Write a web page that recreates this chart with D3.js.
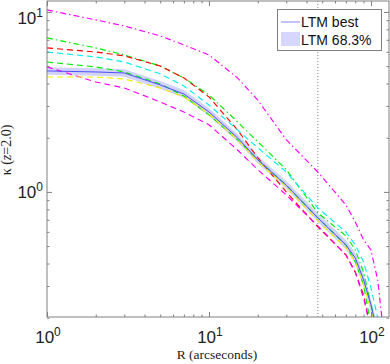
<!DOCTYPE html>
<html>
<head>
<meta charset="utf-8">
<script src="https://cdn.jsdelivr.net/npm/d3@7"></script>
<style>
  body { margin: 0; background: #fff; }
  svg { display: block; }
</style>
</head>
<body>
<svg id="chart"></svg>
<script>
// radius grid (arcseconds) shared by all profiles
const radius = [1, 2, 3, 5, 7, 10, 15, 20, 30, 47, 70, 80, 90, 100, 110, 120];

// kappa profiles (null = curve already gone)
const magentaDashDot = [10.26, 9.03, 8.36, 7.36, 6.56, 5.77, 4.30, 3.24, 1.95, 1.29, 0.847, 0.681, 0.541, 0.476, 0.325, 0.161];
const greenDashDot   = [7.17, 6.31, 5.77, 5.01, 4.30, 3.46, 2.45, 1.90, 1.33, 0.764, 0.570, 0.476, 0.359, 0.236, 0.171, null];
const redDashed      = [6.31, 5.99, 5.70, 5.01, 4.30, 3.37, 2.21, 1.55, 1.00, 0.639, 0.447, 0.359, 0.268, 0.171, null, null];
const cyanDashed     = [5.99, 5.62, 5.27, 4.53, 3.88, 3.04, 2.21, 1.76, 1.29, 0.815, 0.599, 0.508, 0.409, 0.293, 0.200, 0.150];
const greenDashed    = [5.27, 4.95, 4.64, 3.98, 3.41, 2.68, 1.95, 1.51, 1.09, 0.717, 0.508, 0.409, 0.304, 0.182, null, null];
const magentaDashed  = [4.95, 4.08, 3.78, 3.16, 2.78, 2.36, 1.71, 1.33, 0.962, 0.647, 0.447, 0.359, 0.258, 0.171, null, null];
const yellowDashed   = [4.35, 4.35, 4.24, 3.78, 3.37, 2.71, 1.95, 1.47, 1.066, 0.690, 0.489, 0.409, 0.304, 0.221, 0.161, null];
const ltmBest        = [4.70, 4.64, 4.58, 3.93, 3.50, 2.78, 2.00, 1.51, 1.09, 0.717, 0.508, 0.430, 0.325, 0.236, 0.161, null];
const ltmHi          = [4.93, 4.87, 4.81, 4.13, 3.68, 2.92, 2.10, 1.59, 1.15, 0.76, 0.54, 0.46, 0.35, 0.255, 0.18, null];
const ltmLo          = [4.48, 4.42, 4.36, 3.74, 3.33, 2.65, 1.90, 1.44, 1.04, 0.68, 0.48, 0.40, 0.30, 0.215, 0.14, null];

const markerRadius = 47;   // dotted vertical line
const legendLabels = ["LTM best", "LTM 68.3%"];

const width = 390, height = 364;
const margin = {top: 1, right: 1, bottom: 46, left: 47};

const svg = d3.select("#chart").attr("width", width).attr("height", height);

const x = d3.scaleLog().domain([1, 130]).range([margin.left, 389.4]);
const y = d3.scaleLog().domain([0.2, 11.5]).range([317.7, margin.top]);

const plotL = margin.left, plotR = 389, plotT = 1, plotB = 317;

svg.append("clipPath").attr("id", "clip")
  .append("rect").attr("x", plotL).attr("y", plotT)
  .attr("width", plotR - plotL).attr("height", plotB - plotT);

const plot = svg.append("g").attr("clip-path", "url(#clip)");

// dotted vertical line
plot.append("line")
  .attr("x1", x(markerRadius)).attr("x2", x(markerRadius))
  .attr("y1", plotT).attr("y2", plotB)
  .attr("stroke", "#666").attr("stroke-width", 0.8)
  .attr("stroke-dasharray", "1,2");

// 68.3% band
const idx = d3.range(radius.length);
plot.append("path")
  .datum(idx.filter(i => ltmHi[i] != null))
  .attr("fill", "#d2d2ff")
  .attr("d", d3.area()
    .x(i => x(radius[i]))
    .y0(i => y(ltmLo[i]))
    .y1(i => y(ltmHi[i])));

const series = [
  {values: magentaDashDot, color: "#ff00ff", dash: "6,3,1.5,3"},
  {values: greenDashDot,   color: "#00ee00", dash: "6,3,1.5,3"},
  {values: redDashed,      color: "#ff0000", dash: "6,4"},
  {values: cyanDashed,     color: "#00eeee", dash: "6,4"},
  {values: greenDashed,    color: "#00ee00", dash: "6,4"},
  {values: magentaDashed,  color: "#ff00ff", dash: "6,4"},
  {values: yellowDashed,   color: "#eeee00", dash: "6,4"},
  {values: ltmBest,        color: "#5050ff", dash: null}
];

const line = vals => d3.line()
  .defined(i => vals[i] != null)
  .x(i => x(radius[i]))
  .y(i => y(vals[i]));

series.forEach(s => {
  plot.append("path")
    .datum(idx)
    .attr("fill", "none")
    .attr("stroke", s.color)
    .attr("stroke-width", s.dash ? 1.15 : 1)
    .attr("stroke-dasharray", s.dash)
    .attr("d", line(s.values));
});

// axes: ticks pointing inward on all four sides
const axisColor = "#808080";
const majorX = [1, 10, 100];
const minorX = d3.range(1, 4).flatMap(e => d3.range(2, 10).map(m => m * Math.pow(10, e - 1))).filter(v => v < 130);
const majorY = [1, 10];
const minorY = [0.2, 0.3, 0.4, 0.5, 0.6, 0.7, 0.8, 0.9, 2, 3, 4, 5, 6, 7, 8, 9];

function styleAxis(g) {
  g.select(".domain").remove();
  g.selectAll("line").attr("stroke", axisColor);
  g.selectAll("text").remove();
}

[[majorX, 5], [minorX, 2.5]].forEach(([vals, len]) => {
  svg.append("g").attr("transform", `translate(0,${plotB})`)
    .call(d3.axisBottom(x).tickValues(vals).tickSize(-len)).call(styleAxis);
  svg.append("g").attr("transform", `translate(0,${plotT})`)
    .call(d3.axisTop(x).tickValues(vals).tickSize(-len)).call(styleAxis);
});
[[majorY, 5], [minorY, 2.5]].forEach(([vals, len]) => {
  svg.append("g").attr("transform", `translate(${plotL},0)`)
    .call(d3.axisLeft(y).tickValues(vals).tickSize(-len)).call(styleAxis);
  svg.append("g").attr("transform", `translate(${plotR},0)`)
    .call(d3.axisRight(y).tickValues(vals).tickSize(-len)).call(styleAxis);
});

// frame
svg.append("rect")
  .attr("x", plotL).attr("y", plotT)
  .attr("width", plotR - plotL).attr("height", plotB - plotT)
  .attr("fill", "none").attr("stroke", axisColor).attr("stroke-width", 1);

// tick labels
const sans = "Liberation Sans, Arial, sans-serif";
function powLabel(sel, exp) {
  sel.append("tspan").text("10");
  sel.append("tspan").attr("dy", -7).attr("font-size", 12).text(exp);
}
majorX.forEach(v => {
  svg.append("text")
    .attr("x", x(v) + 1).attr("y", 343)
    .attr("text-anchor", "middle")
    .attr("font-family", sans).attr("font-size", 17).attr("fill", "#222")
    .call(powLabel, Math.round(Math.log10(v)));
});
majorY.forEach(v => {
  svg.append("text")
    .attr("x", 43).attr("y", v === 10 ? 24 : 198)
    .attr("text-anchor", "end")
    .attr("font-family", sans).attr("font-size", 17).attr("fill", "#222")
    .call(powLabel, Math.round(Math.log10(v)));
});

// axis titles
const serif = "Liberation Serif, Times New Roman, serif";
svg.append("text")
  .attr("x", 217).attr("y", 359)
  .attr("text-anchor", "middle")
  .attr("font-family", serif).attr("font-size", 13.5).attr("fill", "#222")
  .text("R (arcseconds)");

const yt = svg.append("text")
  .attr("transform", "translate(11,150) rotate(-90)")
  .attr("text-anchor", "middle")
  .attr("font-family", serif).attr("font-size", 14).attr("fill", "#222");
yt.append("tspan").text("κ (");
yt.append("tspan").attr("font-style", "italic").text("z");
yt.append("tspan").text("=2.0)");

// legend
const lg = svg.append("g");
lg.append("rect")
  .attr("x", 277.5).attr("y", 9.5).attr("width", 104).attr("height", 41)
  .attr("fill", "#fff").attr("stroke", axisColor);
lg.append("line")
  .attr("x1", 281).attr("x2", 300).attr("y1", 22).attr("y2", 22)
  .attr("stroke", "#9999ff").attr("stroke-width", 1.2);
lg.append("rect")
  .attr("x", 281).attr("y", 32).attr("width", 19).attr("height", 14)
  .attr("fill", "#d6d6ff");
legendLabels.forEach((t, i) => {
  lg.append("text")
    .attr("x", 301).attr("y", 27 + i * 18)
    .attr("font-family", sans).attr("font-size", 14).attr("fill", "#111")
    .text(t);
});
</script>
</body>
</html>
